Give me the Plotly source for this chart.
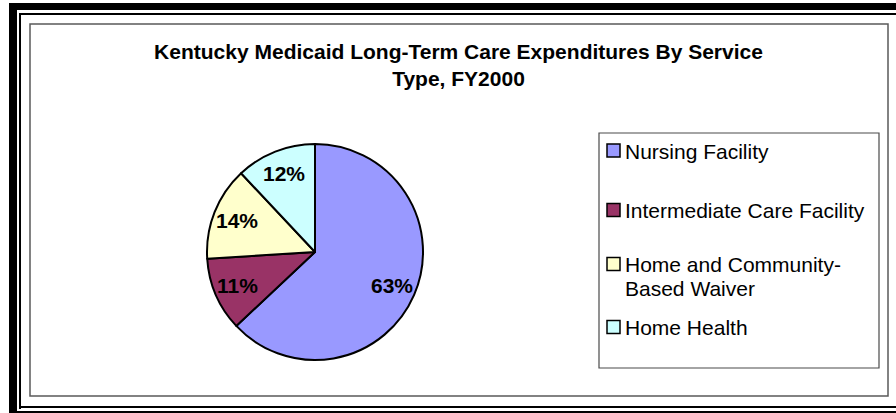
import math
import plotly.graph_objects as go

# ---- data ----
categories = ["Nursing Facility", "Intermediate Care Facility",
              "Home and Community-Based Waiver", "Home Health"]
legend_labels = ["Nursing Facility", "Intermediate Care Facility",
                 "Home and Community-<br>Based Waiver", "Home Health"]
shares = [63, 11, 14, 12]
colors = ["#9999FF", "#993366", "#FFFFCC", "#CCFFFF"]
title_text = "Kentucky Medicaid Long-Term Care Expenditures By Service<br>Type, FY2000"

# ---- layout constants (pixels) ----
W, H = 896, 413
FONT = "Liberation Sans, Arial, sans-serif"
CX, CY, R = 315, 252, 108
LABEL_RF = 0.78
LEG_BOX = (599, 133, 879, 368)
LEG_SQ_X = 607
LEG_SQ = 13
LEG_TEXT_X = 623
LEG_Y = [150.5, 210, 264, 327]
LEG_LINE = 24


def px(x):
    return x / W


def py(y):
    return 1 - y / H


fig = go.Figure()
fig.add_trace(go.Pie(
    labels=categories, values=shares, sort=False, direction="clockwise",
    rotation=0, textinfo="none", hoverinfo="label+percent",
    marker=dict(colors=colors, line=dict(color="#000000", width=2)),
    domain=dict(x=[px(CX - R), px(CX + R)], y=[py(CY + R), py(CY - R)]),
    showlegend=False,
))

annotations = []
total = sum(shares)
cum = 0
for v in shares:
    mid = (cum + v / 2) / total * 2 * math.pi
    cum += v
    lx = CX + math.sin(mid) * R * LABEL_RF
    ly = CY - math.cos(mid) * R * LABEL_RF
    annotations.append(dict(
        x=px(lx), y=py(ly), xref="paper", yref="paper",
        text=f"<b>{round(v / total * 100)}%</b>", showarrow=False,
        font=dict(family=FONT, size=21, color="#000000"),
        xanchor="center", yanchor="middle"))

shapes = []


def rect(x0, y0, x1, y1, fill=None, line_color=None, lw=0):
    shapes.append(dict(
        type="rect", xref="paper", yref="paper",
        x0=px(x0), x1=px(x1), y0=py(y1), y1=py(y0),
        fillcolor=fill if fill else "rgba(0,0,0,0)",
        line=dict(color=line_color if line_color else "rgba(0,0,0,0)", width=lw),
        layer="above"))


# outer double frame
rect(9, 3, 17, 430, fill="#000000")
rect(9, 3, 910, 10, fill="#000000")
rect(9, 411, 910, 430, fill="#000000")
rect(19, 13, 21, 409, fill="#000000")
rect(19, 13, 910, 15, fill="#000000")
rect(19, 406, 910, 408, fill="#000000")
# chart area border
rect(30, 24, 888, 396, line_color="#5a5a5a", lw=1.5)
# legend box
rect(*LEG_BOX, line_color="#4a4a4a", lw=1.2)

for lab, col, y in zip(legend_labels, colors, LEG_Y):
    rect(LEG_SQ_X, y - LEG_SQ / 2, LEG_SQ_X + LEG_SQ, y + LEG_SQ / 2,
         fill=col, line_color="#000000", lw=1.5)
    for i, line in enumerate(lab.split("<br>")):
        annotations.append(dict(
            x=px(LEG_TEXT_X), y=py(y + i * LEG_LINE + 0.5), xref="paper", yref="paper",
            text=line, showarrow=False, align="left",
            font=dict(family=FONT, size=21, color="#000000"),
            xanchor="left", yanchor="middle"))

fig.update_layout(
    width=W, height=H, autosize=False,
    margin=dict(l=0, r=0, t=0, b=0),
    paper_bgcolor="#FFFFFF", plot_bgcolor="#FFFFFF",
    title=dict(text=f"<b>{title_text}</b>", x=px(458.5), y=py(59),
               xref="paper", yref="paper", xanchor="center", yanchor="middle",
               font=dict(family=FONT, size=21, color="#000000")),
    shapes=shapes, annotations=annotations,
)

fig.write_html("out.html", config={"displayModeBar": False},
               post_script="document.body.style.margin='0';document.body.style.overflow='hidden';")
